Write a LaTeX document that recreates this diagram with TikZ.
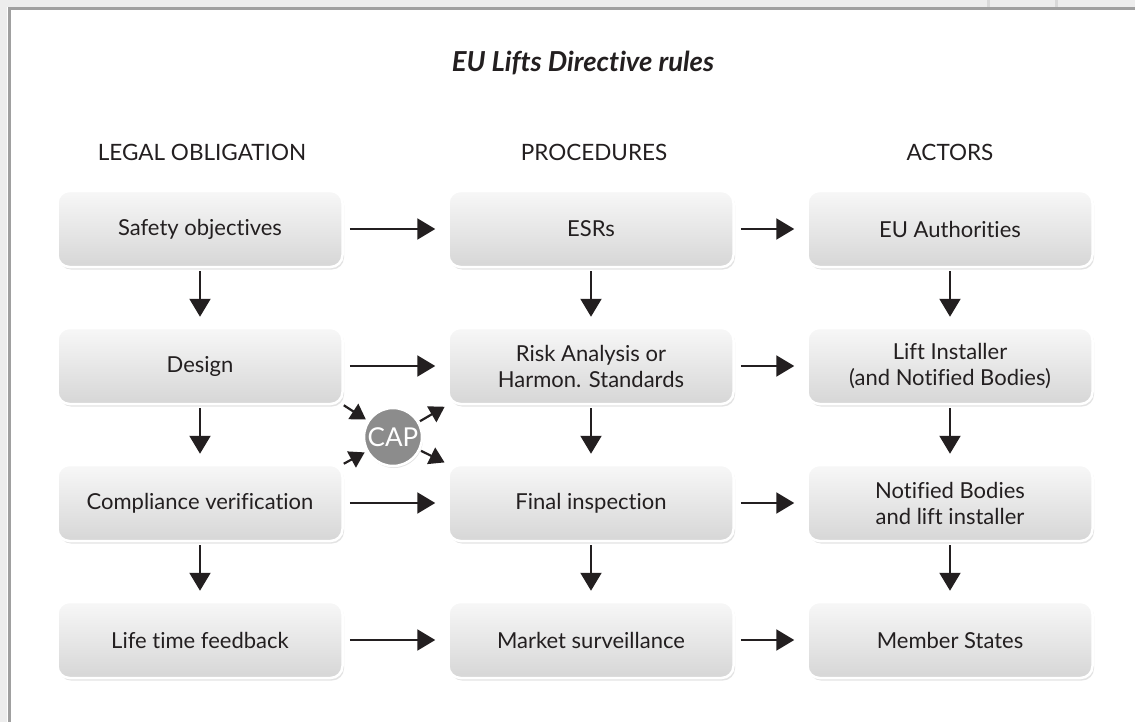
\documentclass[tikz,border=0pt]{standalone}
\usepackage{fontspec}
\setmainfont{Lato}[Ligatures=NoCommon]
\usetikzlibrary{arrows.meta,shadows,positioning}
\definecolor{ink}{HTML}{231F20}
\definecolor{framegray}{HTML}{A0A0A0}
\definecolor{capgray}{HTML}{8C8C8C}
\begin{document}
\begin{tikzpicture}[x=1pt,y=-1pt,
  box/.style={rectangle, rounded corners=12pt, minimum width=285pt, minimum height=76pt,
    draw=white, line width=2.5pt, top color=white!97!black, bottom color=white!84!black,
    drop shadow={shadow xshift=1.5pt, shadow yshift=-2.5pt, opacity=0.22},
    align=center, font=\fontsize{22}{26}\selectfont, text=ink},
  head/.style={font=\fontsize{22.5}{26}\selectfont, text=ink},
  arr/.style={draw=ink, line width=2.2pt, -{Triangle[length=18pt,width=21pt]}},
  carr/.style={draw=ink, line width=2.2pt, -{Triangle[length=15pt,width=18pt]}},
  harr/.style={arr, shorten <=6pt, shorten >=12pt},
  varr/.style={arr, shorten <=3pt, shorten >=10pt},
  capnode/.style={circle, fill=capgray, draw=white, line width=2.5pt, minimum size=58pt, inner sep=0pt,
    text=white, font=\fontsize{26}{28}\selectfont,
    drop shadow={shadow xshift=1pt, shadow yshift=-2pt, opacity=0.22}}
]
\useasboundingbox (0,0) rectangle (1135,722);
% page frame
\fill[white] (0,0) rectangle (1135,722);
\fill[black!7] (0,0) rectangle (1135,7);
\fill[black!7] (0,0) rectangle (7,722);
\draw[black!15, line width=3pt] (988,0) -- (988,7);
\draw[black!15, line width=3pt] (1056,0) -- (1056,7);
\draw[framegray, line width=3pt] (9.5,722) -- (9.5,8.5) -- (1135,8.5);

% title and headers
\node[font=\fontsize{27.5}{31}\selectfont\bfseries\itshape, text=ink] (title) at (583,63) {EU Lifts Directive rules};
\node[head] (h1) at (202,152) {LEGAL OBLIGATION};
\node[head] (h2) at (594,152) {PROCEDURES};
\node[head] (h3) at (950,152) {ACTORS};

% boxes
\node[box] (safety) at (200,229) {Safety objectives};
\node[box] (design) at (200,366) {Design};
\node[box] (compl)  at (200,503) {Compliance verification};
\node[box] (life)   at (200,640) {Life time feedback};

\node[box] (esr)    at (591,229) {ESRs};
\node[box] (risk)   at (591,366) {Risk Analysis or\\Harmon. Standards};
\node[box] (final)  at (591,503) {Final inspection};
\node[box] (market) at (591,640) {Market surveillance};

\node[box] (euauth) at (950,229) {EU Authorities};
\node[box] (inst)   at (950,366) {Lift Installer\\(and Notified Bodies)};
\node[box] (notif)  at (950,503) {Notified Bodies\\and lift installer};
\node[box] (member) at (950,640) {Member States};

% CAP
\node[capnode] (cap) at (393,437) {CAP};

% horizontal arrows
\draw[harr] (safety) -- (esr);
\draw[harr] (design) -- (risk);
\draw[harr] (compl) -- (final);
\draw[harr] (life) -- (market);
\draw[harr] (esr) -- (euauth);
\draw[harr] (risk) -- (inst);
\draw[harr] (final) -- (notif);
\draw[harr] (market) -- (member);

% vertical arrows
\draw[varr] (safety) -- (design);
\draw[varr] (design) -- (compl);
\draw[varr] (compl) -- (life);
\draw[varr] (esr) -- (risk);
\draw[varr] (risk) -- (final);
\draw[varr] (final) -- (market);
\draw[varr] (euauth) -- (inst);
\draw[varr] (inst) -- (notif);
\draw[varr] (notif) -- (member);

% CAP arrows
\draw[carr, shorten >=2pt] (design.south east) -- (cap);
\draw[carr, shorten >=2pt] (compl.north east) -- (cap);
\draw[carr, shorten <=1pt, shorten >=3pt] (cap) -- (risk.south west);
\draw[carr, shorten <=1pt, shorten >=3pt] (cap) -- (final.north west);
\end{tikzpicture}
\end{document}
